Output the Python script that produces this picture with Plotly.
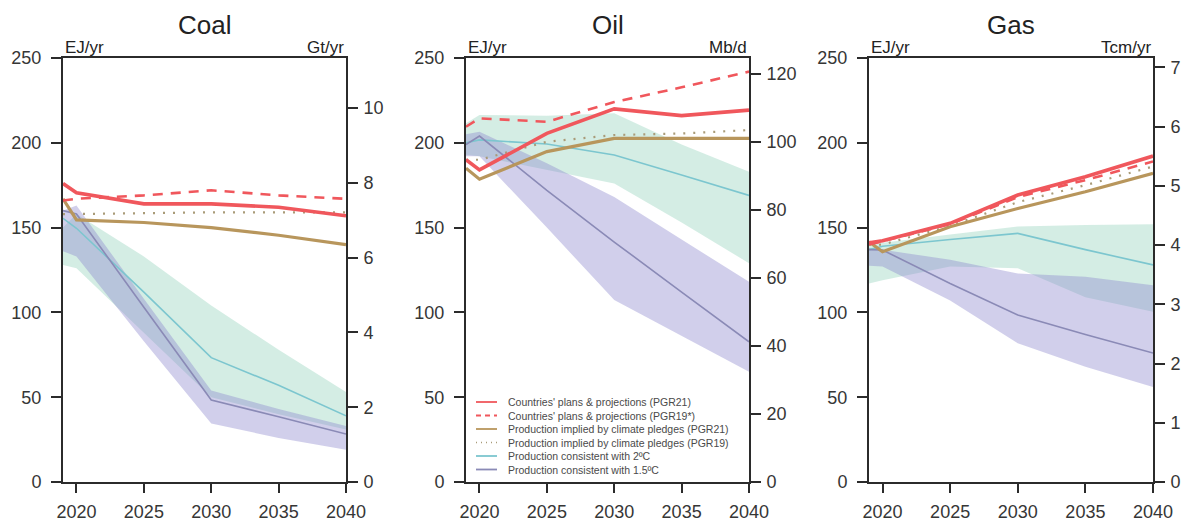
import plotly.graph_objects as go

# ---------------- data ----------------
years = [2019, 2020, 2025, 2030, 2035, 2040]

# Coal (EJ/yr)
coal_plans_pgr21 = [176, 170.5, 164, 164, 162, 157]
coal_plans_pgr19 = [166, 167, 169, 172, 169, 167]
coal_pledges_pgr21 = [167, 154.5, 153, 150, 145.5, 140]
coal_pledges_pgr19 = [158, 158, 158.5, 159, 159, 159]
coal_2c = [155.5, 149.6, 112, 73.3, 57, 39]
coal_15c = [160, 158, 103, 48.3, 38.5, 28.3]
coal_2c_hi = [150, 158, 133, 104, 78, 53]
coal_2c_lo = [128, 126, 88, 50, 40, 31]
coal_15c_hi = [160, 163, 108, 54, 43, 33]
coal_15c_lo = [136, 133, 83, 34.5, 26, 19]

# Oil (EJ/yr)
oil_plans_pgr21 = [190, 184, 205.6, 220, 216, 219.3]
oil_plans_pgr19 = [209.5, 214.4, 212.4, 224, 232.7, 242]
oil_pledges_pgr21 = [185, 178.5, 194.8, 202.6, 202.6, 202.6]
oil_pledges_pgr19 = [190, 190, 200.6, 204.6, 205.5, 207.5]
oil_2c = [200, 201.7, 199.3, 192.8, 181, 169]
oil_15c = [199, 204, 172, 141.5, 112, 82.7]
oil_2c_hi = [211.5, 216.4, 216, 217.4, 199, 183]
oil_2c_lo = [193, 192, 184, 176, 153, 129]
oil_15c_hi = [205, 206.5, 188, 168, 143, 118]
oil_15c_lo = [192, 192, 150, 107.3, 86, 65]

# Gas (EJ/yr)
gas_plans_pgr21 = [141, 142.3, 152.5, 169.2, 180, 192.2]
gas_plans_pgr19 = [140, 142, 152, 168, 178, 189]
gas_pledges_pgr21 = [141.7, 135.8, 150.5, 161.3, 171.1, 182]
gas_pledges_pgr19 = [140, 140, 151, 165, 175, 186]
gas_2c = [137, 139, 143, 146.6, 137, 128]
gas_15c = [137, 136.8, 117, 98.5, 87, 76]
gas_2c_hi = [139.7, 141, 146, 150.6, 151.5, 152]
gas_2c_lo = [117, 119, 127, 126, 109, 100.4]
gas_15c_hi = [138, 137, 131, 123, 121, 116]
gas_15c_lo = [127.5, 127, 107, 81.8, 68, 56]

panel_titles = ["Coal", "Oil", "Gas"]
right_units = ["Gt/yr", "Mb/d", "Tcm/yr"]
left_unit = "EJ/yr"
left_ticks = [0, 50, 100, 150, 200, 250]
x_ticks = [2020, 2025, 2030, 2035, 2040]
right_ticks = [[0, 2, 4, 6, 8, 10],
               [0, 20, 40, 60, 80, 100, 120],
               [0, 1, 2, 3, 4, 5, 6, 7]]
right_max = [11.34, 124.7, 7.16]

legend_labels = [
    "Countries' plans & projections (PGR21)",
    "Countries' plans & projections (PGR19*)",
    "Production implied by climate pledges (PGR21)",
    "Production implied by climate pledges (PGR19)",
    "Production consistent with 2ºC",
    "Production consistent with 1.5ºC",
]

# ---------------- styles ----------------
RED = "#f0575c"
GOLD = "#b8965c"
DOT = "#a99b78"
TEAL = "#7cc6cf"
PURP = "#8a8ab6"
GREEN_FILL = "rgba(120,200,170,0.32)"
PURP_FILL = "rgba(140,135,205,0.40)"
AX = "#2b2b2b"
TXT = "#2b2b2b"
FONT = "Liberation Sans, Arial, sans-serif"

# page body has an 8px margin: size the figure so it fills the window exactly
OFF = 8
WIN_W, WIN_H = 1192, 522
W, H = WIN_W - OFF, WIN_H - OFF


def fx(p):  # window pixel x -> paper
    return (p - OFF) / W


def fy(p):  # window pixel y -> paper
    return 1 - (p - OFF) / H


x_px = [(63, 346), (466, 749), (869, 1153)]
y_top, y_bot = 58, 482
ydom = [fy(y_bot), fy(y_top)]

panels = [
    (coal_plans_pgr21, coal_plans_pgr19, coal_pledges_pgr21, coal_pledges_pgr19,
     coal_2c, coal_15c, coal_2c_hi, coal_2c_lo, coal_15c_hi, coal_15c_lo),
    (oil_plans_pgr21, oil_plans_pgr19, oil_pledges_pgr21, oil_pledges_pgr19,
     oil_2c, oil_15c, oil_2c_hi, oil_2c_lo, oil_15c_hi, oil_15c_lo),
    (gas_plans_pgr21, gas_plans_pgr19, gas_pledges_pgr21, gas_pledges_pgr19,
     gas_2c, gas_15c, gas_2c_hi, gas_2c_lo, gas_15c_hi, gas_15c_lo),
]

fig = go.Figure()

for i, p in enumerate(panels):
    (pl21, pl19, pd21, pd19, l2, l15, h2, lo2, h15, lo15) = p
    xa = "x" if i == 0 else f"x{i+1}"
    ya = "y" if i == 0 else f"y{i+1}"
    band_x = years + years[::-1]
    fig.add_trace(go.Scatter(x=band_x, y=h2 + lo2[::-1], fill="toself",
                             fillcolor=GREEN_FILL, line=dict(width=0),
                             mode="lines", xaxis=xa, yaxis=ya, hoverinfo="skip"))
    fig.add_trace(go.Scatter(x=band_x, y=h15 + lo15[::-1], fill="toself",
                             fillcolor=PURP_FILL, line=dict(width=0),
                             mode="lines", xaxis=xa, yaxis=ya, hoverinfo="skip"))
    fig.add_trace(go.Scatter(x=years, y=l2, mode="lines",
                             line=dict(color=TEAL, width=1.6), xaxis=xa, yaxis=ya))
    fig.add_trace(go.Scatter(x=years, y=l15, mode="lines",
                             line=dict(color=PURP, width=1.6), xaxis=xa, yaxis=ya))
    fig.add_trace(go.Scatter(x=years, y=pd19, mode="lines",
                             line=dict(color=DOT, width=2.2, dash="2px,8px"),
                             xaxis=xa, yaxis=ya))
    fig.add_trace(go.Scatter(x=years, y=pd21, mode="lines",
                             line=dict(color=GOLD, width=3.2), xaxis=xa, yaxis=ya))
    fig.add_trace(go.Scatter(x=years, y=pl19, mode="lines",
                             line=dict(color=RED, width=2.6, dash="10px,8px"),
                             xaxis=xa, yaxis=ya))
    fig.add_trace(go.Scatter(x=years, y=pl21, mode="lines",
                             line=dict(color=RED, width=3.6), xaxis=xa, yaxis=ya))
    # secondary (right) axis carrier
    fig.add_trace(go.Scatter(x=[], y=[], xaxis=xa, yaxis=f"y{i+4}",
                             showlegend=False))

layout = dict(
    width=W, height=H,
    margin=dict(l=0, r=0, t=0, b=0, autoexpand=False),
    paper_bgcolor="white", plot_bgcolor="white",
    showlegend=False,
    font=dict(family=FONT, color=TXT, size=18),
)

tickfont = dict(size=18, color="#363636", family=FONT)
annotations = []
shapes = []
for i in range(3):
    sfx = "" if i == 0 else str(i + 1)
    x0, x1 = x_px[i]
    layout[f"xaxis{sfx}"] = dict(
        domain=[fx(x0), fx(x1)], range=[2019, 2040], anchor=f"y{sfx}",
        tickvals=x_ticks, ticks="outside", ticklen=9, tickwidth=1.6,
        tickcolor=AX, showline=True, linecolor=AX, linewidth=2, mirror=True,
        showgrid=False, zeroline=False, ticklabelstandoff=3, automargin=False,
        tickfont=tickfont,
    )
    layout[f"yaxis{sfx}"] = dict(
        domain=ydom, range=[0, 250], anchor=f"x{sfx}",
        tickvals=left_ticks, ticks="outside", ticklen=10, tickwidth=1.6,
        tickcolor=AX, showline=True, linecolor=AX, linewidth=2, mirror=True,
        showgrid=False, zeroline=False, ticklabelstandoff=6, automargin=False,
        tickfont=tickfont,
    )
    layout[f"yaxis{i+4}"] = dict(
        overlaying=f"y{sfx}", side="right", anchor=f"x{sfx}",
        range=[0, right_max[i]], tickvals=right_ticks[i],
        ticks="outside", ticklen=10, tickwidth=1.6, tickcolor=AX,
        showline=True, linecolor=AX, linewidth=2, automargin=False,
        showgrid=False, zeroline=False, ticklabelstandoff=2,
        tickfont=tickfont,
    )
    # title
    annotations.append(dict(text=panel_titles[i], xref="paper", yref="paper",
                            x=fx((x0 + x1) / 2), y=fy(25),
                            xanchor="center", yanchor="middle", showarrow=False,
                            font=dict(size=26, color="#222222", family=FONT)))
    annotations.append(dict(text=left_unit, xref="paper", yref="paper",
                            x=fx(x0), y=fy(48), xanchor="left",
                            yanchor="middle", showarrow=False,
                            font=dict(size=17, color="#222222", family=FONT)))
    annotations.append(dict(text=right_units[i], xref="paper", yref="paper",
                            x=fx(x1), y=fy(48), xanchor="right",
                            yanchor="middle", showarrow=False,
                            font=dict(size=17, color="#222222", family=FONT)))

# legend drawn inside the Oil panel
leg_styles = [
    dict(color=RED, width=1.8, dash="solid"),
    dict(color=RED, width=1.8, dash="5px,4px"),
    dict(color=GOLD, width=1.8, dash="solid"),
    dict(color=DOT, width=1.5, dash="1px,4px"),
    dict(color=TEAL, width=1.8, dash="solid"),
    dict(color=PURP, width=1.8, dash="solid"),
]
for k, lab in enumerate(legend_labels):
    yy = fy(402 + 13.5 * k)
    shapes.append(dict(type="line", xref="paper", yref="paper",
                       x0=fx(476), x1=fx(497), y0=yy, y1=yy,
                       line=leg_styles[k]))
    annotations.append(dict(text=lab, xref="paper", yref="paper",
                            x=fx(506), y=yy, xanchor="left", yanchor="middle",
                            showarrow=False,
                            font=dict(size=10.5, color="#4a4a4a", family=FONT)))

layout["annotations"] = annotations
layout["shapes"] = shapes
fig.update_layout(**layout)

fig.write_html("out.html")
